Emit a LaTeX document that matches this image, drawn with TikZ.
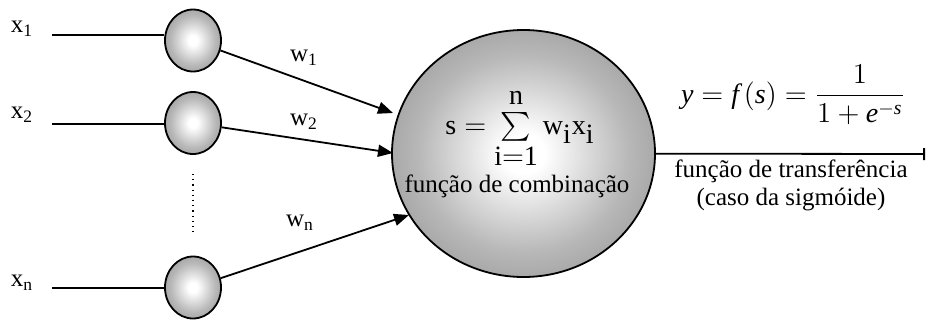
\documentclass[tikz,border=0pt]{standalone}
\usepackage{amsmath}
\usepackage{exscale}
\usepackage{fontspec}
\setmainfont{Liberation Serif}
\usetikzlibrary{arrows.meta,shapes.geometric}
\pgfdeclareradialshading{ball}{\pgfpoint{0bp}{0bp}}{color(0bp)=(white); color(4bp)=(white); color(20bp)=(black!28); color(35bp)=(black!45); color(50bp)=(black!57); color(100bp)=(black!57)}
\tikzset{
  neuron/.style={ellipse, draw=black, line width=0.9pt, shading=ball, inner sep=0pt, minimum width=28pt, minimum height=31pt},
  bigneuron/.style={ellipse, draw=black, line width=0.9pt, shading=ball, inner sep=0pt, minimum width=131.5pt, minimum height=123.5pt},
  wire/.style={line width=0.9pt},
  warrow/.style={line width=0.9pt, -{Triangle[length=7.5pt,width=6pt]}},
  outarrow/.style={line width=0.9pt, -{Bar[width=6pt,line width=0.9pt]}},
  lbl/.style={font=\fontsize{12.5}{14}\selectfont, inner sep=0pt},
}
\begin{document}
\begin{tikzpicture}[x=0.5pt,y=-0.5pt]
\useasboundingbox[fill=white] (0,0) rectangle (927,322);
% small neurons
\node[neuron] (c1) at (193,40.5) {};
\node[neuron] (c2) at (193,123) {};
\node[neuron] (cn) at (193,287.5) {};
% big neuron
\node[bigneuron] (big) at (523.5,153.5) {};
% input lines
\coordinate (i1) at (52,35);
\coordinate (i2) at (52,124);
\coordinate (in) at (52,288);
\draw[wire] (i1) -- (i1 -| c1.west);
\draw[wire] (i2) -- (i2 -| c2.west);
\draw[wire] (in) -- (in -| cn.west);
% input labels
\node[lbl] (x1) at (22,29) {x\textsubscript{1}};
\node[lbl] (x2) at (22,115) {x\textsubscript{2}};
\node[lbl] (xn) at (22,283) {x\textsubscript{n}};
% dots
\draw[dotted, line width=0.6pt, shorten <=9.5pt, shorten >=11pt] (c2) -- (cn);
% weighted arrows
\coordinate (t1) at (393,113);
\coordinate (t2) at (393,153);
\coordinate (tn) at (409,215);
\draw[warrow] (c1) -- (t1);
\draw[warrow] (c2) -- (t2);
\draw[warrow] (cn) -- (tn);
\node[lbl] (w1) at (304,58) {w\textsubscript{1}};
\node[lbl] (w2) at (304,122) {w\textsubscript{2}};
\node[lbl] (wn) at (300,223) {w\textsubscript{n}};
% inside big neuron
\node[lbl, font=\fontsize{14}{16}\selectfont] (sum) at (520,128) {$\mathrm{s} = \sum\limits_{\textstyle\mathrm{i{=}1}}^{\raisebox{1.5pt}{$\textstyle\mathrm{n}$}} \mathrm{w}_{\textstyle\mathrm{i}}\mathrm{x}_{\textstyle\mathrm{i}}$};
\node[lbl] (comb) at (517,186) {função de combinação};
% output
\coordinate (out) at (925,154);
\draw[outarrow] (big) -- (out);
\node[lbl, font=\fontsize{14}{16}\selectfont] (fs) at (793,95) {$\displaystyle \textit{y} = \textit{f}\,(\textit{s}) = \frac{1}{1+\textit{e}^{-\textit{s}}}$};
\node[lbl, align=center] (transf) at (791,185) {função de transferência\\(caso da sigmóide)};
\end{tikzpicture}
\end{document}
